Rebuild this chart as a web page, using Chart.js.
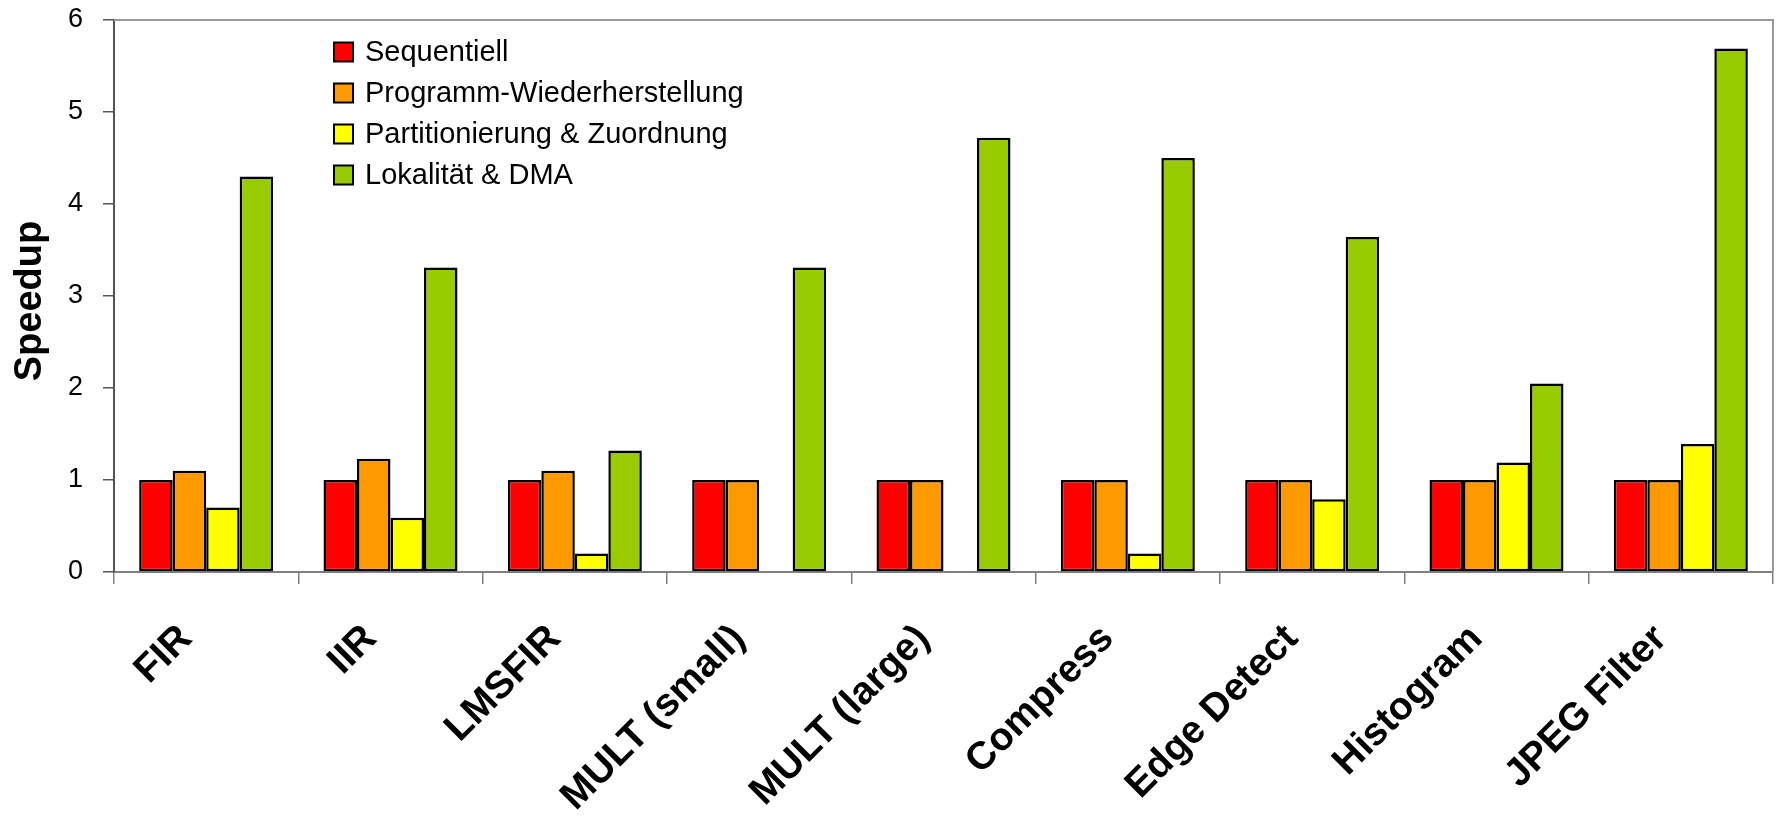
<!DOCTYPE html>
<html>
<head>
<meta charset="utf-8">
<script src="https://cdn.jsdelivr.net/npm/chart.js@4/dist/chart.umd.min.js"></script>
<style>
  html, body { margin: 0; padding: 0; background: #ffffff; }
  #wrap { width: 1779px; height: 825px; }
</style>
</head>
<body>
<div id="wrap"><canvas id="c" width="1779" height="825"></canvas></div>
<script>
// Benchmarks on the x axis
const categories = ['FIR', 'IIR', 'LMSFIR', 'MULT (small)', 'MULT (large)', 'Compress', 'Edge Detect', 'Histogram', 'JPEG Filter'];

// Speedup per optimisation stage
const sequentiell     = [1, 1, 1, 1, 1, 1, 1, 1, 1];
const wiederherst     = [1.1, 1.23, 1.1, 1, 1, 1, 1, 1, 1];
const partitionierung = [0.7, 0.59, 0.2, null, null, 0.2, 0.79, 1.19, 1.39];
const lokalitaet      = [4.3, 3.31, 1.32, 3.31, 4.72, 4.5, 3.64, 2.05, 5.69];

const seriesNames = ['Sequentiell', 'Programm-Wiederherstellung', 'Partitionierung & Zuordnung', 'Lokalität & DMA'];
const seriesColors = ['#FF0000', '#FF9900', '#FFFF00', '#99CC00'];

// y axis ticks and title
const yTicks = [0, 1, 2, 3, 4, 5, 6];
const yTitle = 'Speedup';

const FONT = '"Liberation Sans", Arial, sans-serif';

const seriesValues = [sequentiell, wiederherst, partitionierung, lokalitaet];
const datasets = seriesValues.map((vals, i) => ({
  label: seriesNames[i],
  data: vals,
  backgroundColor: seriesColors[i],
  borderColor: '#000000',
  borderWidth: 2.5,
  borderSkipped: false,
  categoryPercentage: 0.727,
  barPercentage: 1.0
}));

// Gray frame around the plot area (top and right edges)
const plotFrame = {
  id: 'plotFrame',
  beforeDatasetsDraw(chart) {
    const { ctx, chartArea: a } = chart;
    ctx.save();
    ctx.strokeStyle = '#999999';
    ctx.lineWidth = 2;
    ctx.beginPath();
    ctx.moveTo(a.left, a.top);
    ctx.lineTo(a.right, a.top);
    ctx.lineTo(a.right, a.bottom);
    ctx.stroke();
    ctx.restore();
  }
};

// Vertical axis title, placed a little below the plot's centre line
const axisTitle = {
  id: 'axisTitle',
  afterDraw(chart) {
    const { ctx } = chart;
    ctx.save();
    ctx.translate(31, 301);
    ctx.rotate(-Math.PI / 2);
    ctx.font = 'bold 38px ' + FONT;
    ctx.fillStyle = '#000000';
    ctx.textAlign = 'center';
    ctx.textBaseline = 'middle';
    ctx.fillText(yTitle, 0, 0);
    ctx.restore();
  }
};

// Legend drawn inside the plot area, one entry per row
const insideLegend = {
  id: 'insideLegend',
  afterDraw(chart) {
    const { ctx } = chart;
    const x0 = 334, y0 = 52, rowGap = 41, box = 19;
    ctx.save();
    ctx.font = '29px ' + FONT;
    ctx.textBaseline = 'middle';
    ctx.textAlign = 'left';
    chart.data.datasets.forEach((ds, i) => {
      const cy = y0 + i * rowGap;
      ctx.fillStyle = ds.backgroundColor;
      ctx.fillRect(x0, cy - box / 2, box, box);
      ctx.strokeStyle = '#000000';
      ctx.lineWidth = 2;
      ctx.strokeRect(x0, cy - box / 2, box, box);
      ctx.fillStyle = '#000000';
      ctx.fillText(ds.label, x0 + box + 12, cy + 1);
    });
    ctx.restore();
  }
};

new Chart(document.getElementById('c'), {
  type: 'bar',
  data: { labels: categories, datasets },
  options: {
    responsive: false,
    animation: false,
    devicePixelRatio: 1,
    layout: { padding: { top: 20, right: 6, left: 0, bottom: 0 } },
    plugins: {
      legend: { display: false },
      tooltip: { enabled: false }
    },
    scales: {
      x: {
        offset: true,
        grid: {
          offset: true,
          drawOnChartArea: false,
          drawTicks: true,
          tickLength: 12,
          color: '#808080',
          lineWidth: 1.5
        },
        border: { display: true, color: '#808080', width: 2 },
        ticks: {
          autoSkip: false,
          maxRotation: 45,
          minRotation: 45,
          padding: 32,
          labelOffset: -20,
          color: '#000000',
          font: { family: FONT, size: 39, weight: 'bold' }
        },
        afterFit(scale) { scale.height = 253; }
      },
      y: {
        min: 0,
        max: 6,
        afterBuildTicks(scale) { scale.ticks = yTicks.map(v => ({ value: v })); },
        grid: {
          drawOnChartArea: false,
          drawTicks: true,
          tickLength: 11,
          color: '#555555',
          lineWidth: 1.5
        },
        border: { display: true, color: '#555555', width: 2 },
        ticks: {
          padding: 20,
          color: '#000000',
          font: { family: FONT, size: 27 }
        },
        afterFit(scale) {
          scale.width = 114;
          scale.paddingTop = 0;
          scale.paddingBottom = 0;
        }
      }
    }
  },
  plugins: [plotFrame, axisTitle, insideLegend]
});
</script>
</body>
</html>
